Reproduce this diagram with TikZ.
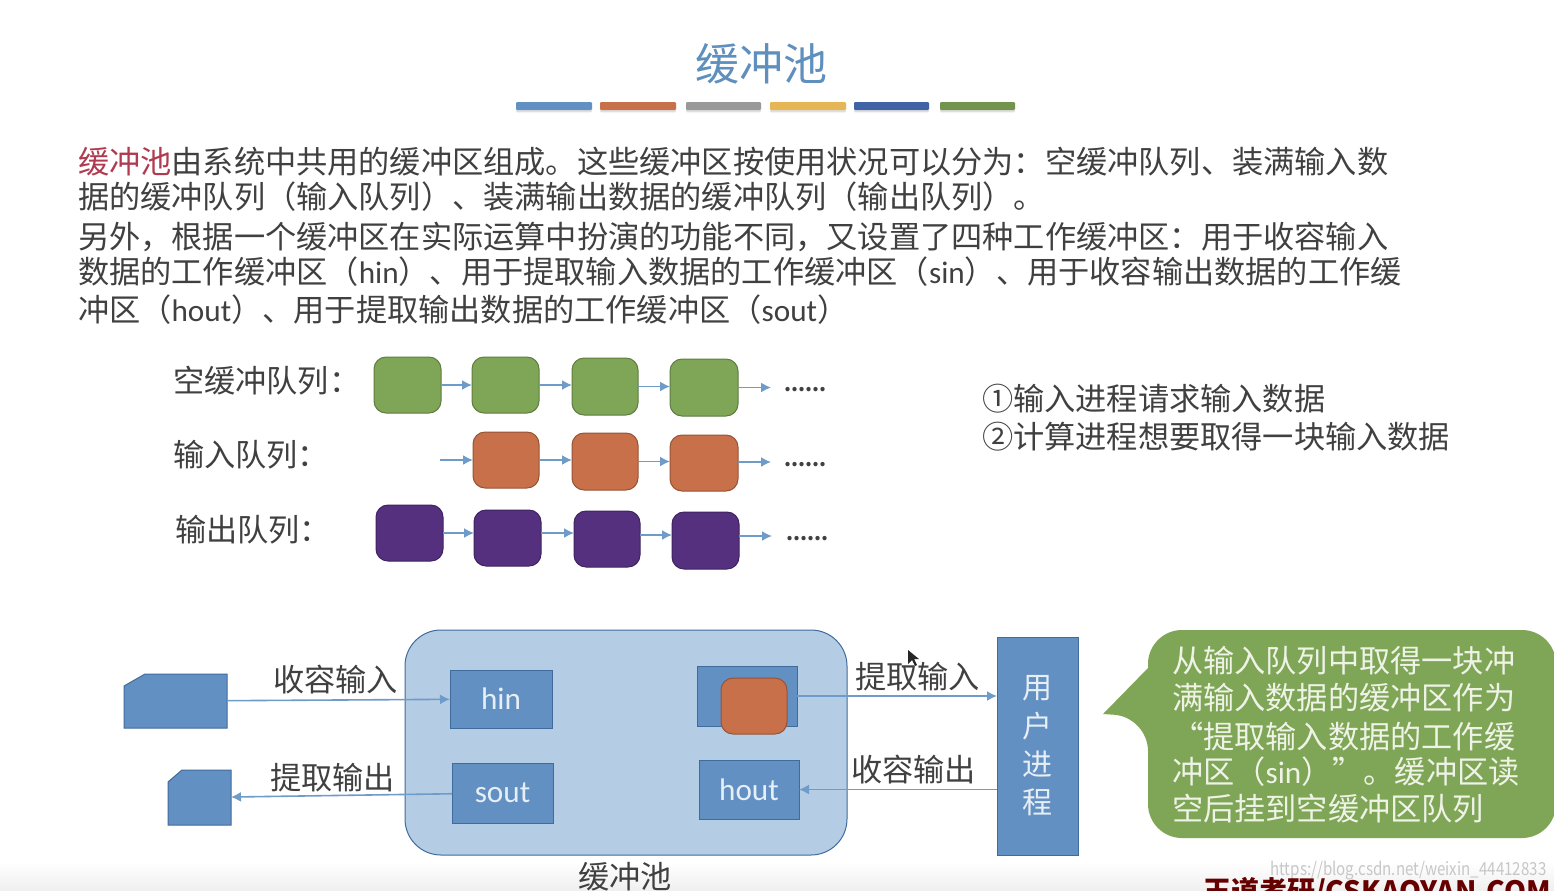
\documentclass[tikz,border=0pt]{standalone}
\usepackage{fontspec}
\setmainfont{Noto Sans CJK SC}
\newfontfamily\lat{Carlito}
\usetikzlibrary{arrows.meta,calc,shadows}
\definecolor{boxblue}{HTML}{6390C2}
\definecolor{edgeblue}{HTML}{3F6C9C}
\definecolor{poolblue}{HTML}{B5CDE4}
\definecolor{leafgreen}{HTML}{7FA557}
\definecolor{rustorange}{HTML}{C8704A}
\definecolor{deeppurple}{HTML}{54307F}
\definecolor{ink}{HTML}{404040}
\definecolor{titleblue}{HTML}{5F8FBC}
\definecolor{linkblue}{HTML}{6F9BC8}
\definecolor{pale}{HTML}{EEF3E6}
\definecolor{paleblue}{HTML}{E6EEF6}
\tikzset{
  txt/.style={inner sep=0pt,outer sep=0pt,anchor=base west,text=ink,font=\fontsize{15.6}{18}\selectfont},
  gbar/.style={drop shadow={opacity=.25,shadow xshift=0pt,shadow yshift=-1.2pt},rounded corners=.6pt,inner sep=0pt},
  cell/.style={inner sep=0pt,outer sep=0pt,rounded corners=6pt,draw=#1!75!black,line width=.5pt,fill=#1},
  wbox/.style={inner sep=0pt,outer sep=0pt,fill=boxblue,draw=edgeblue,line width=.5pt,text=paleblue,font=\fontsize{15.6}{18}\selectfont},
  link/.style={draw=linkblue,line width=.8pt,-{Latex[length=5pt,width=5pt]}},
  anchorbox/.style={inner sep=0pt,outer sep=0pt},
  cutfill/.style={fill=boxblue,draw=edgeblue,line width=.5pt},
  dotsrow/.style={inner sep=0pt,anchor=base west,text=ink,font=\fontsize{10}{12}\bfseries\selectfont},
  calloutline/.style={txt,text=pale},
}
\newcommand\pbox[7]{\node[#1,minimum width={(#5-#3)*0.5pt},minimum height={(#6-#4)*0.5pt}] (#2) at ({(#3+#5)/2},{(#4+#6)/2}) {#7};}
\begin{document}
\begin{tikzpicture}[x=0.5pt,y=-0.5pt]
\useasboundingbox (0,0) rectangle (1554,890);
\clip (0,0) rectangle (1554,890);
\fill[white] (0,0) rectangle (1554,890);
\shade[top color=white,bottom color=black!6] (0,862) rectangle (1554,890);
% title
\node[anchor=base,inner sep=0pt,text=titleblue,font=\fontsize{22}{26}\selectfont] (title) at (761,80) {缓冲池};
\pbox{gbar,fill=boxblue}{b1}{516}{102}{592}{110}{}
\pbox{gbar,fill=rustorange}{b2}{600}{102}{676}{110}{}
\pbox{gbar,fill=black!40}{b3}{686}{102}{761}{110}{}
\pbox{gbar,fill={rgb,255:red,229;green,181;blue,86}}{b4}{770}{102}{846}{110}{}
\pbox{gbar,fill={rgb,255:red,63;green,99;blue,165}}{b5}{854}{102}{929}{110}{}
\pbox{gbar,fill=leafgreen!90!black}{b6}{940}{102}{1015}{110}{}
% body text
\node[txt] (t1) at (78,173) {\textcolor[HTML]{B03A50}{缓冲池}由系统中共用的缓冲区组成。这些缓冲区按使用状况可以分为：空缓冲队列、装满输入数};
\node[txt] (t2) at (78,208) {据的缓冲队列（输入队列）、装满输出数据的缓冲队列（输出队列）。};
\node[txt] (t3) at (78,248) {另外，根据一个缓冲区在实际运算中扮演的功能不同，又设置了四种工作缓冲区：用于收容输入};
\node[txt] (t4) at (78,283) {数据的工作缓冲区（{\lat hin}）、用于提取输入数据的工作缓冲区（{\lat sin}）、用于收容输出数据的工作缓};
\node[txt] (t5) at (78,321) {冲区（{\lat hout}）、用于提取输出数据的工作缓冲区（{\lat sout}）};
% queues
\node[txt] (l1) at (173,392) {空缓冲队列：};
\node[txt] (l2) at (173,466) {输入队列：};
\node[txt] (l3) at (175,541) {输出队列：};
\pbox{cell=leafgreen}{g1}{374}{357}{441}{413}{}
\pbox{cell=leafgreen}{g2}{472}{357}{539}{413}{}
\pbox{cell=leafgreen}{g3}{572}{358}{638}{415}{}
\pbox{cell=leafgreen}{g4}{670}{359}{738}{416}{}
\coordinate (ge) at (771,387);
\draw[link] (g1.east) -- (g1 -| g2.west);
\draw[link] (g2.east) -- (g2 -| g3.west);
\draw[link] (g3.east) -- (g3 -| g4.west);
\draw[link] (g4.east) -- (g4 -| ge);
\node[dotsrow] (gd) at (784,391) {......};
\pbox{cell=rustorange}{o1}{473}{432}{539}{488}{}
\pbox{cell=rustorange}{o2}{572}{433}{638}{490}{}
\pbox{cell=rustorange}{o3}{670}{435}{738}{491}{}
\coordinate (os) at (440,460);
\coordinate (oe) at (771,462);
\draw[link] (os) -- (os -| o1.west);
\draw[link] (o1.east) -- (o1 -| o2.west);
\draw[link] (o2.east) -- (o2 -| o3.west);
\draw[link] (o3.east |- oe) -- (oe);
\node[dotsrow] (od) at (784,466) {......};
\pbox{cell=deeppurple}{p1}{376}{505}{443}{561}{}
\pbox{cell=deeppurple}{p2}{474}{510}{541}{566}{}
\pbox{cell=deeppurple}{p3}{574}{511}{640}{567}{}
\pbox{cell=deeppurple}{p4}{672}{512}{739}{569}{}
\coordinate (pe) at (772,536);
\coordinate (pm) at (600,535);
\draw[link] (p1.east) -- (p1 -| p2.west);
\draw[link] (p2.east |- p1) -- (p1 -| p3.west);
\draw[link] (p3.east |- pm) -- (pm -| p4.west);
\draw[link] (p4.east |- pe) -- (pe);
\node[dotsrow] (pd) at (786,540) {......};
% notes
\node[txt] (n1) at (982,410) {①输入进程请求输入数据};
\node[txt] (n2) at (982,448) {②计算进程想要取得一块输入数据};
% pool
\pbox{draw=edgeblue,line width=.5pt,fill=poolblue,rounded corners=18pt,inner sep=0pt,outer sep=0pt}{pool}{405}{630}{847}{855}{}
\pbox{wbox,font=\lat\fontsize{15.6}{18}\selectfont}{hin}{450}{670}{552}{728}{hin}
\pbox{wbox,font=\lat\fontsize{15.6}{18}\selectfont}{sout}{452}{763}{553}{823}{sout}
\pbox{wbox}{sin}{697}{666}{797}{726}{}
\pbox{cell=rustorange}{sinb}{721}{678}{787}{734}{}
\pbox{wbox,font=\lat\fontsize{15.6}{18}\selectfont}{hout}{699}{760}{799}{819}{hout}
\pbox{wbox,font=\fontsize{15}{19.2}\selectfont,align=center}{user}{997}{637}{1078}{855}{用\\户\\进\\程}
\pbox{anchorbox}{src}{124}{674}{227}{728}{}
\pbox{anchorbox}{dst}{168}{770}{231}{825}{}
\draw[cutfill] ($(src.north west)+(21,0)$) -- (src.north east) -- (src.south east) -- (src.south west) -- ($(src.north west)+(0,12)$) -- cycle;
\draw[cutfill] ($(dst.north west)+(14,0)$) -- (dst.north east) -- (dst.south east) -- (dst.south west) -- ($(dst.north west)+(0,12)$) -- cycle;
\draw[link] (src) -- (hin);
\draw[link] (sout) -- (dst);
\draw[link] (sin.east) -- (sin.east -| user.west);
\draw[link] (hout.east -| user.west) -- (hout.east);
\node[txt] (e1) at (273,691) {收容输入};
\node[txt] (e2) at (270,789) {提取输出};
\node[txt] (e3) at (855,688) {提取输入};
\node[txt] (e4) at (851,781) {收容输出};
\node[txt] (pl) at (578,888) {缓冲池};
% cursor
\fill[black!85] (908,650) -- (908,664) -- (912,660) -- (915,666) -- (917,665) -- (914,659) -- (919,659) -- cycle;
% callout
\fill[leafgreen] (1103,714) -- (1148,668) [rounded corners=17pt] -- (1148,630) -- (1556,630) -- (1556,838) -- (1148,838) -- (1148,717) [sharp corners] -- cycle;
\node[calloutline] (c1) at (1172,672) {从输入队列中取得一块冲};
\node[calloutline] (c2) at (1172,709) {满输入数据的缓冲区作为};
\node[calloutline] (c3) at (1172,748) {“提取输入数据的工作缓};
\node[calloutline] (c4) at (1172,783) {冲区（{\lat sin}）”。缓冲区读};
\node[calloutline] (c5) at (1172,820) {空后挂到空缓冲区队列};
% watermarks
\node[inner sep=0pt,anchor=base west,text=black!22,font=\fontsize{9}{11}\selectfont] (w1) at (1270,875) {\scalebox{.84}[1]{https://blog.csdn.net/weixin\_44412833}};
\node[inner sep=0pt,anchor=base west,text=red!40!black,font=\fontsize{14}{16}\bfseries\selectfont] (w2) at (1203,901) {王道考研/CSKAOYAN.COM};
\end{tikzpicture}
\end{document}
